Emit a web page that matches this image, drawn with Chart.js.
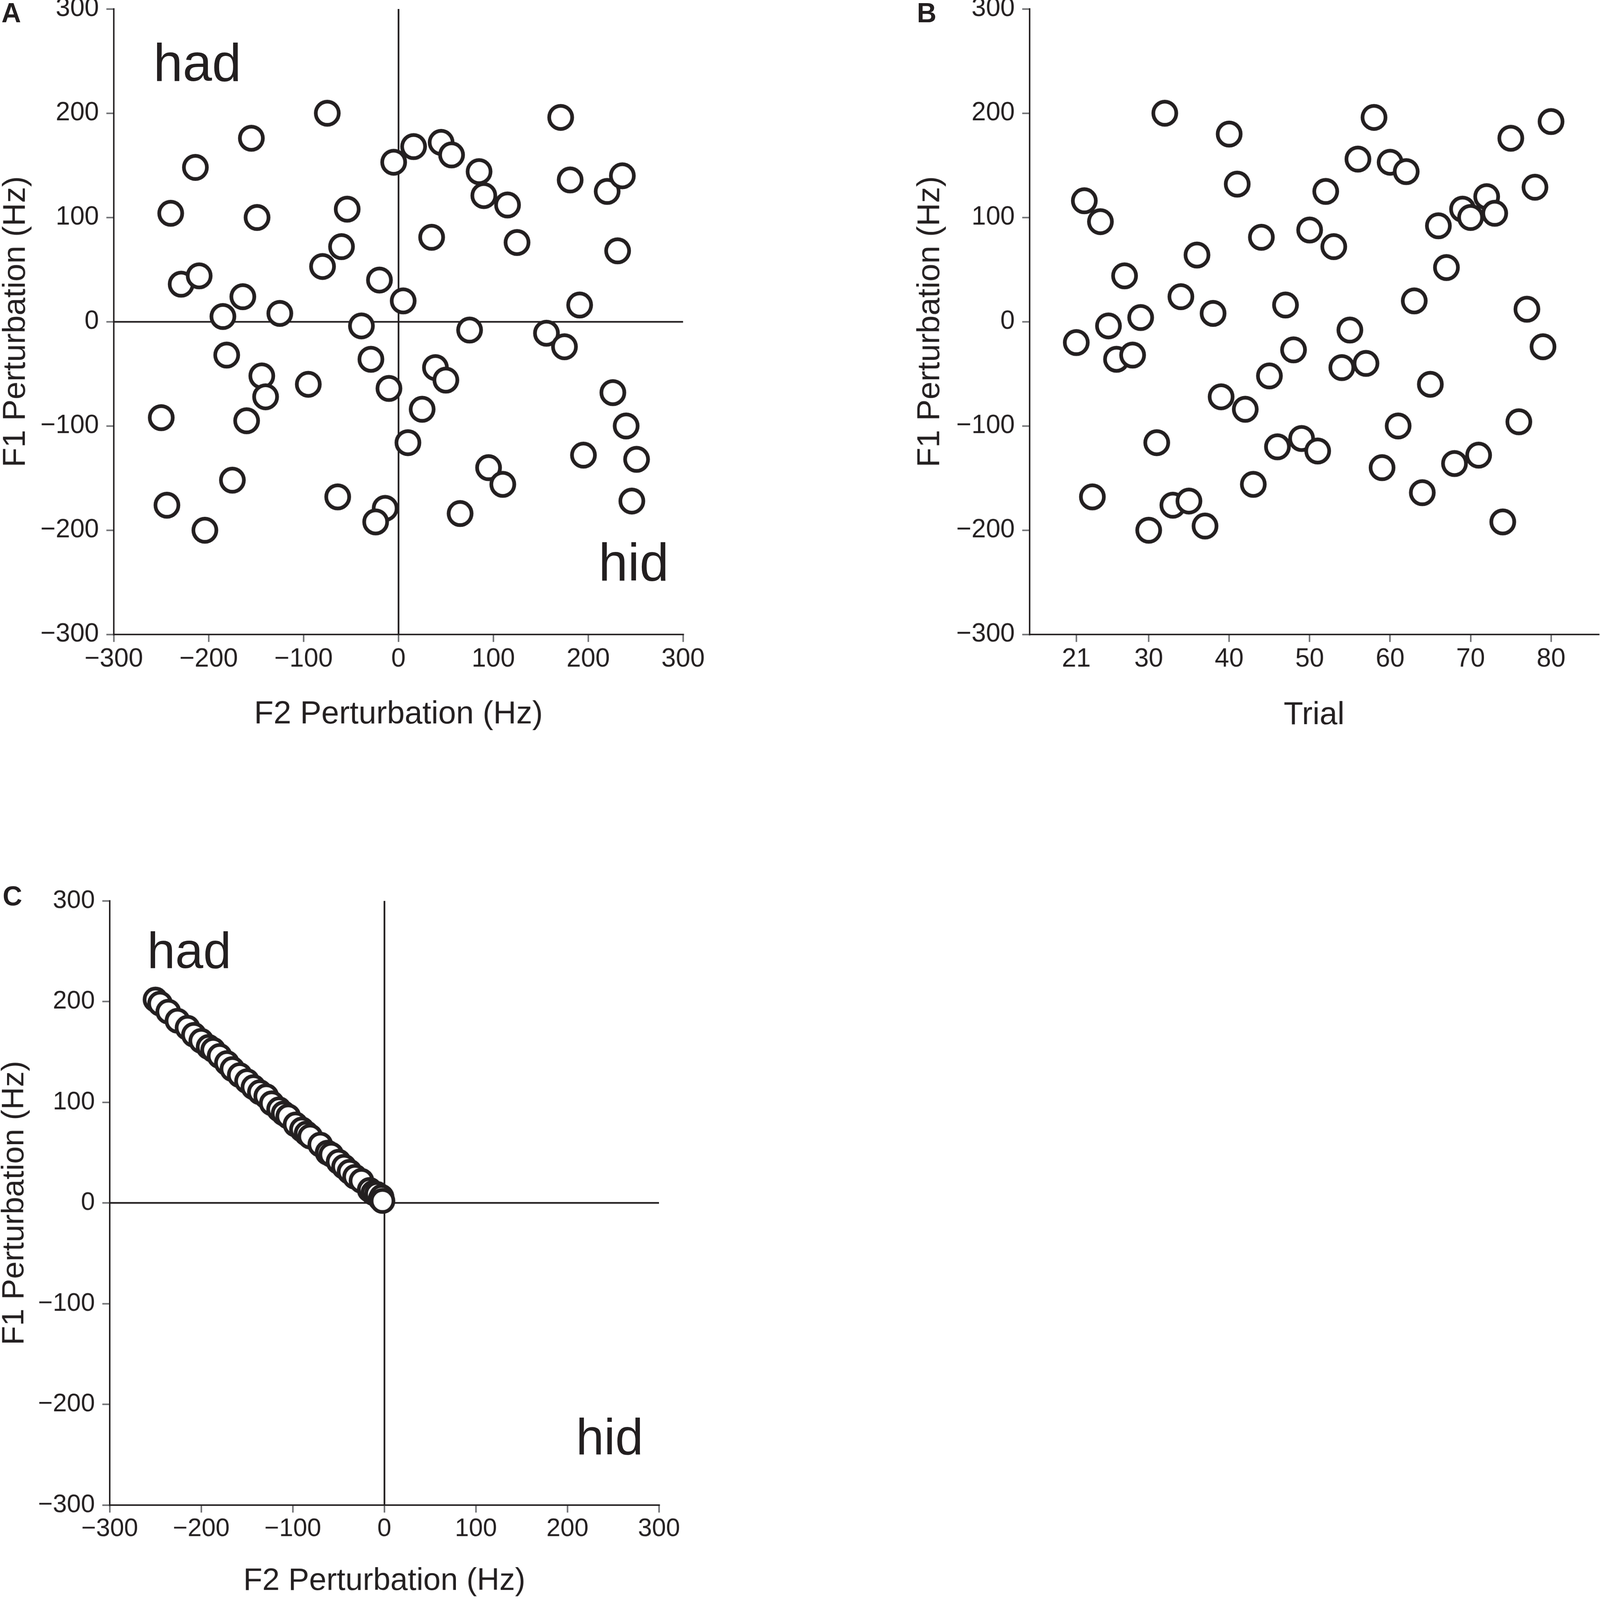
<!DOCTYPE html>
<html>
<head>
<meta charset="utf-8">
<script src="https://cdn.jsdelivr.net/npm/chart.js@4.4.1/dist/chart.umd.min.js"></script>
<style>
  html, body { margin: 0; padding: 0; background: #ffffff; overflow: hidden; }
  #page { position: absolute; left: 0; top: 0; width: 4317px; height: 4282px; overflow: hidden; background: #ffffff; transform-origin: 0 0; }
  canvas { position: absolute; }
  .lbl { position: absolute; font-family: "Liberation Sans", Arial, sans-serif; color: #231f20; line-height: 1; white-space: nowrap; }
  .panel { font-weight: bold; font-size: 73px; }
  .vowel { font-weight: normal; }
</style>
</head>
<body>
<div id="page">
  <canvas id="chartA"></canvas>
  <canvas id="chartB"></canvas>
  <canvas id="chartC"></canvas>
  <div class="lbl panel" style="left:4px; top:-2px;">A</div>
  <div class="lbl panel" style="left:2474px; top:-2px;">B</div>
  <div class="lbl panel" style="left:7px; top:2361px;">C</div>
  <div class="lbl vowel" style="left:414px; top:96px; font-size:142px;">had</div>
  <div class="lbl vowel" style="left:1615px; top:1434px; font-size:142px;">hid</div>
  <div class="lbl vowel" style="left:397px; top:2476px; font-size:136px;">had</div>
  <div class="lbl vowel" style="left:1554px; top:3777px; font-size:136px;">hid</div>
</div>
<script>
// ---------------- DATA ----------------
// Panel A: F2 / F1 perturbation (Hz) per trial
const A_F2 = [-75,-155,-214,-240,-149,-229,-210,-164,-185,-125,-181,-144,-140,-95,-250,-160,-175,-244,-204,
              -54,-60,-80,-20,-39,-29,-10,-64,-14,-24,-5,16,45,56,85,90,115,125,35,5,75,39,50,25,10,95,110,65,
              171,181,220,236,231,191,156,175,226,240,195,251,246];
const A_F1 = [200,176,148,104,100,36,44,24,5,8,-32,-52,-72,-60,-92,-95,-152,-176,-200,
              108,72,53,40,-4,-36,-64,-168,-179,-192,153,168,172,160,144,121,112,76,81,20,-8,-44,-56,-84,-116,-140,-156,-184,
              196,136,125,140,68,16,-11,-24,-68,-100,-128,-132,-172];

// Panel B: F1 perturbation by trial
const B_TRIAL = [21,22,23,24,25,26,27,28,29,30,31,32,33,34,35,36,37,38,39,40,
                 41,42,43,44,45,46,47,48,49,50,51,52,53,54,55,56,57,58,59,60,
                 61,62,63,64,65,66,67,68,69,70,71,72,73,74,75,76,77,78,79,80];
const B_F1 = [-20,116,-168,96,-4,-36,44,-32,4,-200,-116,200,-176,24,-172,64,-196,8,-72,180,
              132,-84,-156,81,-52,-120,16,-27,-112,88,-124,125,72,-44,-8,156,-40,196,-140,153,
              -100,144,20,-164,-60,92,52,-136,108,100,-128,120,104,-192,176,-96,12,129,-24,192];

// Panel C: perturbations constrained to the had direction
const C_F2 = [-250,-245,-236,-226,-215,-208,-200,-192,-187,-180,-172,-166,-158,-150,-143,-136,-129,-123,-115,-110,
              -105,-97,-90,-85,-81,-70,-62,-58,-50,-44,-38,-32,-25,-16,-12,-8,-4,-3,-2];
const C_F1 = [202,198,190,181,174,167,161,155,152,146,139,133,127,121,115,110,106,99,93,89,
              86,78,73,69,66,58,50,48,41,36,31,26,22,13,10,9,4,6,2];

// Tick labels
const HZ_TICKS = [-300,-200,-100,0,100,200,300];
const TRIAL_TICKS = [21,30,40,50,60,70,80];
const X_TITLE_HZ = 'F2 Perturbation (Hz)';
const Y_TITLE_HZ = 'F1 Perturbation (Hz)';
const X_TITLE_TRIAL = 'Trial';

// ---------------- STYLE / LAYOUT ----------------
const INK = '#231f20';
const TICK_INK = '#6d6e71';
const FONT = '"Liberation Sans", Arial, sans-serif';

// fit the 4317x4282 page into the actual viewport
(function fitPage() {
  const sx = (window.innerWidth || 4317) / 4317;
  const sy = (window.innerHeight || 4282) / 4282;
  document.getElementById('page').style.transform = 'scale(' + sx + ',' + sy + ')';
})();

function fmt(v) { return v < 0 ? '\u2212' + Math.abs(v) : String(v); }
function pts(xs, ys) { return xs.map((x, i) => ({ x: x, y: ys[i] })); }

function makePanel(id, p) {
  const padL = 360, padT = 100, padR = 120, padB = 300;
  const cw = (p.R - p.L) + padL + padR;
  const ch = (p.B - p.T) + padT + padB;
  const cLeft = p.L - padL, cTop = p.T - padT;
  const canvas = document.getElementById(id);
  canvas.width = cw; canvas.height = ch;
  canvas.style.left = cLeft + 'px'; canvas.style.top = cTop + 'px';
  canvas.style.width = cw + 'px'; canvas.style.height = ch + 'px';

  const tickLH = p.tickSize * 1.2;
  const titleLH = p.titleSize * 1.2;
  const labelMiddle = p.xLabelBaseline - 0.3465 * p.tickSize;
  const xTickPad = labelMiddle - p.B - 20 - tickLH / 2;
  const xTitlePadBottom = ch - (p.xTitleY - cTop) - titleLH / 2;
  const yTitlePadTop = (p.yTitleX - cLeft) - titleLH / 2;

  const zeroColor = (ctx) => (p.zeroLines && ctx.tick && ctx.tick.value === 0) ? INK : 'rgba(0,0,0,0)';

  const xScale = {
    type: 'linear', min: p.xMin, max: p.xMax,
    afterFit: (s) => { s.height = padB; },
    afterBuildTicks: (s) => { s.ticks = p.xTicks.map(v => ({ value: v })); },
    grid: { drawOnChartArea: !!p.zeroLines, color: zeroColor, lineWidth: 4.5,
            drawTicks: true, tickLength: 20, tickColor: TICK_INK, tickWidth: 4 },
    border: { display: true, color: INK, width: 4 },
    ticks: { color: INK, font: { family: FONT, size: p.tickSize, lineHeight: 1.2 },
             padding: xTickPad, maxRotation: 0, autoSkip: false, callback: (v) => fmt(v) },
    title: { display: true, text: p.xTitle, color: INK,
             font: { family: FONT, size: p.titleSize, lineHeight: 1.2 },
             padding: { top: 0, bottom: xTitlePadBottom } }
  };
  const yScale = {
    type: 'linear', min: -300, max: 300,
    afterFit: (s) => { s.width = padL; },
    afterBuildTicks: (s) => { s.ticks = HZ_TICKS.map(v => ({ value: v })); },
    grid: { drawOnChartArea: !!p.zeroLines, color: zeroColor, lineWidth: 4.5,
            drawTicks: true, tickLength: 20, tickColor: TICK_INK, tickWidth: 4 },
    border: { display: true, color: INK, width: 4 },
    ticks: { color: INK, font: { family: FONT, size: p.tickSize, lineHeight: 1.2 },
             padding: 20, autoSkip: false, callback: (v) => fmt(v) },
    title: { display: true, text: Y_TITLE_HZ, color: INK,
             font: { family: FONT, size: p.titleSize, lineHeight: 1.2 },
             padding: { top: yTitlePadTop, bottom: 0 } }
  };

  return new Chart(canvas, {
    type: 'scatter',
    data: { datasets: [{
      data: p.data,
      pointRadius: p.radius, pointHoverRadius: p.radius,
      pointBorderWidth: p.border, pointHoverBorderWidth: p.border,
      pointBackgroundColor: '#ffffff', pointBorderColor: INK,
      clip: false
    }] },
    options: {
      responsive: false, animation: false, devicePixelRatio: 1,
      events: [],
      layout: { padding: { left: 0, top: padT, right: padR, bottom: 0 } },
      plugins: { legend: { display: false }, tooltip: { enabled: false }, title: { display: false } },
      scales: { x: xScale, y: yScale }
    }
  });
}

makePanel('chartA', {
  L: 307, T: 24, R: 1843, B: 1698, xMin: -300, xMax: 300, xTicks: HZ_TICKS,
  tickSize: 70, titleSize: 86, xLabelBaseline: 1789, xTitleY: 1912, yTitleX: 43,
  xTitle: X_TITLE_HZ, zeroLines: true, data: pts(A_F2, A_F1), radius: 31, border: 10
});
makePanel('chartB', {
  L: 2778, T: 24, R: 4313, B: 1698, xMin: 15.2, xMax: 85.9, xTicks: TRIAL_TICKS,
  tickSize: 70, titleSize: 86, xLabelBaseline: 1789, xTitleY: 1914, yTitleX: 2510,
  xTitle: X_TITLE_TRIAL, zeroLines: false, data: pts(B_TRIAL, B_F1), radius: 31, border: 10
});
makePanel('chartC', {
  L: 296, T: 2411, R: 1778, B: 4028, xMin: -300, xMax: 300, xTicks: HZ_TICKS,
  tickSize: 68, titleSize: 84, xLabelBaseline: 4116, xTitleY: 4232, yTitleX: 40,
  xTitle: X_TITLE_HZ, zeroLines: true, data: pts(C_F2, C_F1), radius: 29.5, border: 10
});
</script>
</body>
</html>
